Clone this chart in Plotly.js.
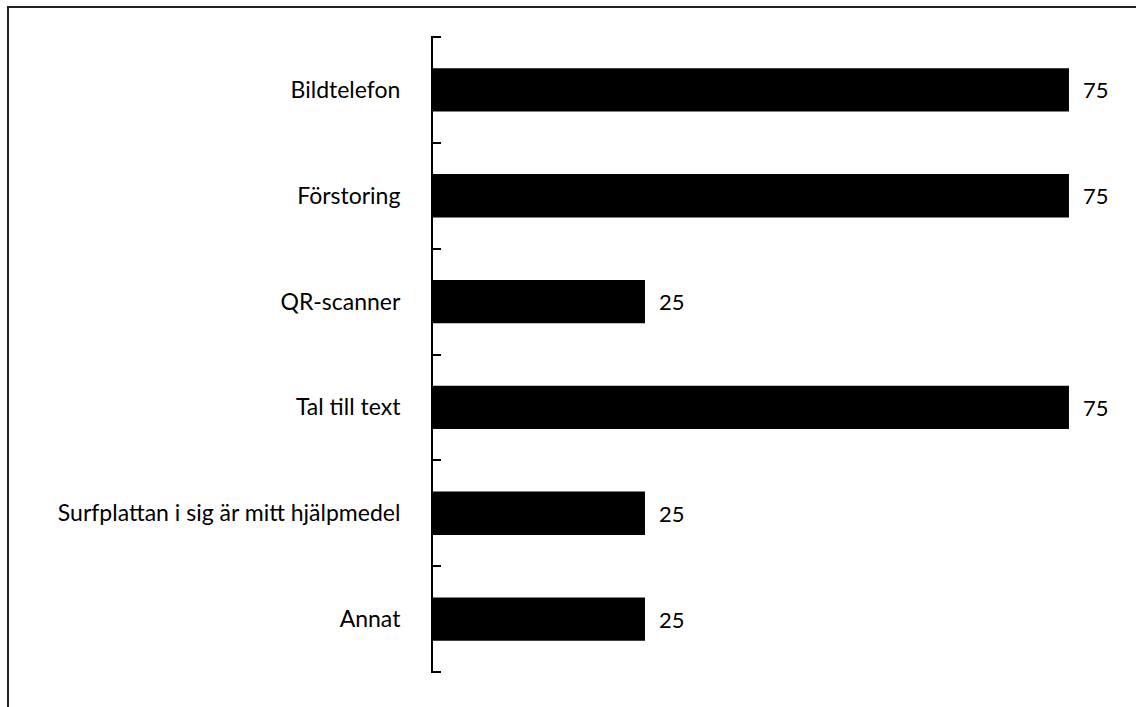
<!DOCTYPE html>
<html><head><meta charset="utf-8">
<script src="https://cdn.plot.ly/plotly-3.0.1.min.js"></script>
<style>
html,body{margin:0;padding:0;background:#fff;}
#wrap{position:relative;width:1136px;height:707px;overflow:hidden;}
#chart{position:absolute;left:0;top:0;width:1136px;height:707px;}
#frame{position:absolute;left:7px;top:6px;width:1200px;height:800px;border-top:2px solid #222;border-left:2px solid #222;pointer-events:none;}
</style></head>
<body><div id="wrap"><div id="chart"></div><div id="frame"></div></div>
<script>
const categories = ["Bildtelefon","Förstoring","QR-scanner","Tal till text","Surfplattan i sig är mitt hjälpmedel","Annat"];
const values = [75,75,25,75,25,25];

const fontFam = "Lato, 'Open Sans', sans-serif";
const xMax = 81.96;
const trace = {
  type: "bar", orientation: "h",
  y: categories, x: values,
  marker: {color: "#000000", line: {width: 0}},
  width: 0.41,
  hoverinfo: "skip"
};
const annotations = categories.map((c, i) => ({
  x: values[i], y: c, xref: "x", yref: "y",
  text: String(values[i]), showarrow: false,
  xanchor: "left", xshift: 12,
  font: {family: fontFam, size: 22, color: "#000"}
}));
// end ticks at top and bottom of the category axis
const tickLenUnits = 8 / (695 / xMax);
const endTicks = [-0.5, categories.length - 0.5].map(yv => ({
  type: "line", xref: "x", yref: "y",
  x0: 0, x1: tickLenUnits, y0: yv, y1: yv,
  line: {color: "#000", width: 2}
}));
const layout = {
  width: 1136, height: 707,
  margin: {l: 433, r: 8, t: 36, b: 34},
  paper_bgcolor: "#fff", plot_bgcolor: "#fff",
  showlegend: false,
  xaxis: {range: [0, xMax], visible: false, fixedrange: true},
  yaxis: {
    type: "category", autorange: "reversed",
    showline: true, linecolor: "#000", linewidth: 2,
    ticks: "inside", tickson: "boundaries", ticklen: 8, tickwidth: 2, tickcolor: "#000",
    showgrid: false, zeroline: false,
    ticklabelstandoff: 26,
    tickfont: {family: fontFam, size: 23, color: "#000"}
  },
  shapes: endTicks,
  annotations: annotations
};
Plotly.newPlot("chart", [trace], layout, {displayModeBar: false, staticPlot: true});
</script></body></html>
